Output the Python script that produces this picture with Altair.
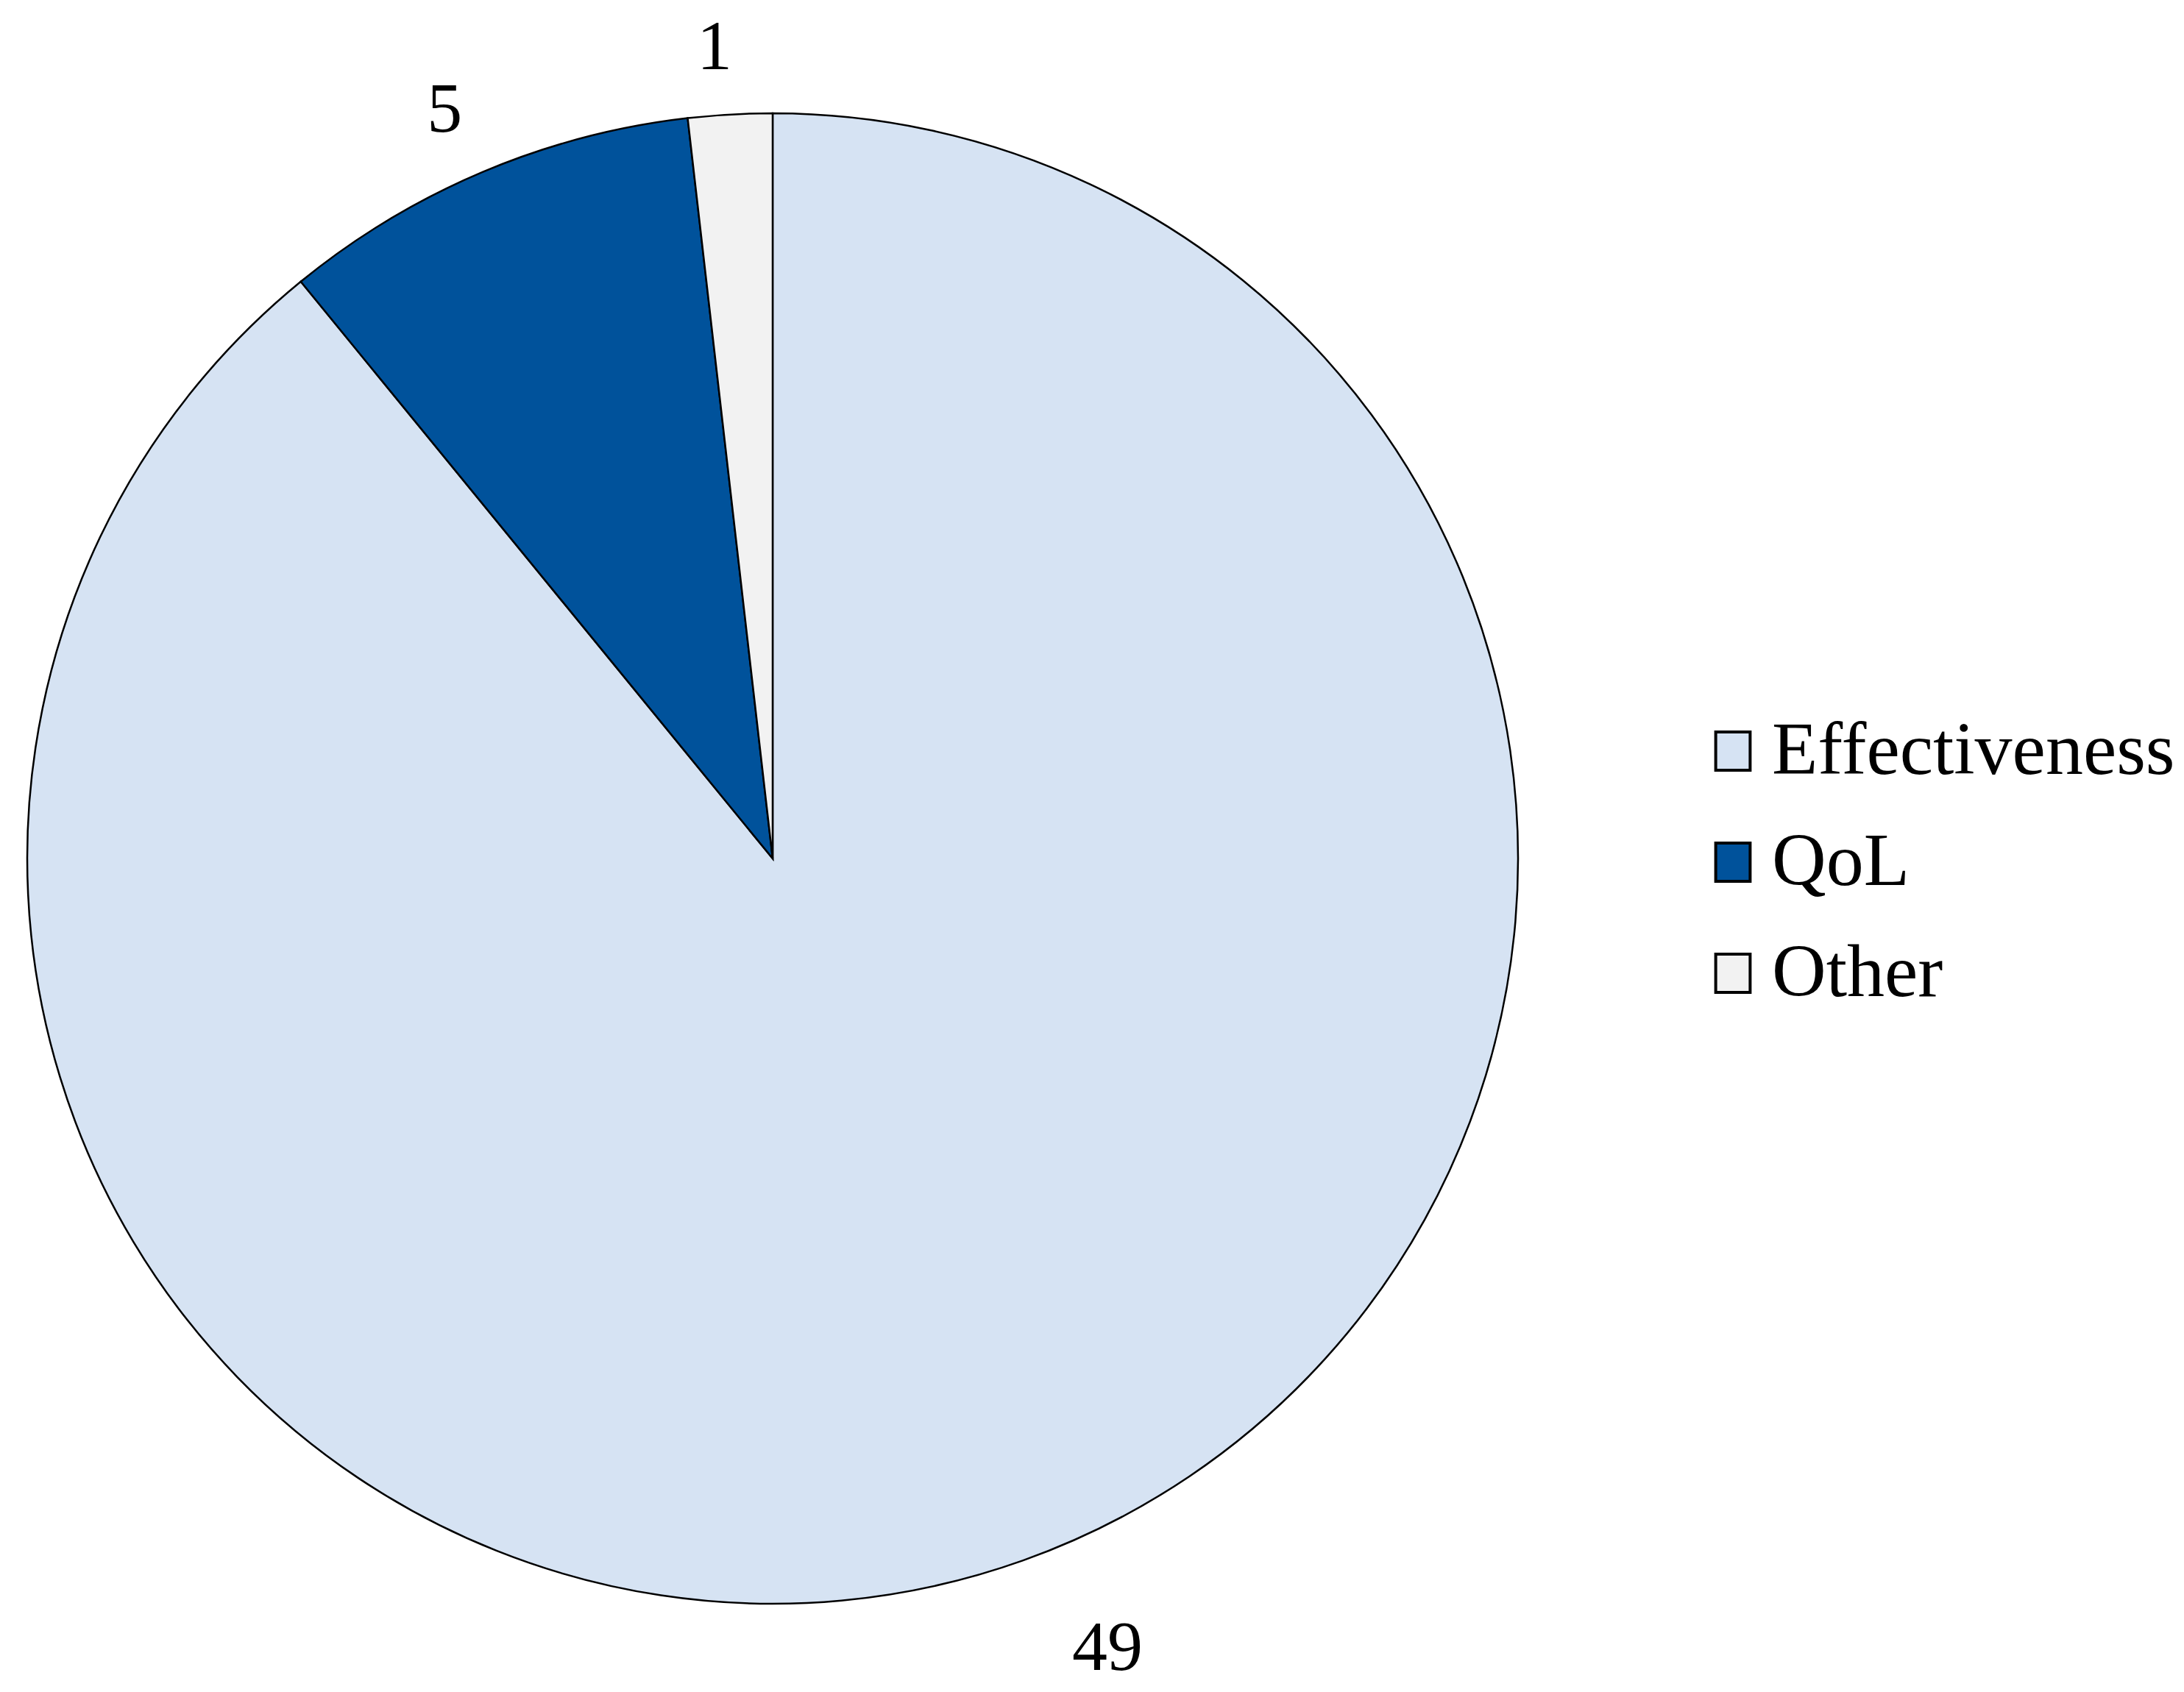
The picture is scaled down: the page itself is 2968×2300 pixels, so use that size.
import altair as alt
import pandas as pd

categories = ["Effectiveness", "QoL", "Other"]
counts = [49, 5, 1]
colors = ["#D6E3F3", "#00529B", "#F2F2F2"]
order = [0, 1, 2]

df = pd.DataFrame({"category": categories, "count": counts, "ord": order})

cx, cy = 1042, 1159

base = alt.Chart(df).encode(
    theta=alt.Theta("count:Q", stack=True),
    order=alt.Order("ord:Q"),
    x=alt.value(cx),
    y=alt.value(cy),
)

pie = base.mark_arc(outerRadius=1013, stroke="black", strokeWidth=2.5).encode(
    color=alt.Color(
        "category:N",
        scale=alt.Scale(domain=categories, range=colors),
        sort=categories,
        legend=alt.Legend(
            title=None,
            orient="none",
            legendX=2296,
            legendY=962,
            labelFont="Liberation Serif",
            labelFontSize=102,
            labelColor="black",
            symbolType="M-0.9,-1H0.9V1H-0.9Z",
            symbolSize=2700,
            symbolStrokeColor="black",
            symbolStrokeWidth=4,
            rowPadding=49,
            labelOffset=2,
            labelLimit=1000,
        ),
    ),
)

text_style = dict(font="Liberation Serif", fontSize=96, color="black",
                  baseline="middle", align="center")

labels_big = base.mark_text(radius=1140, dx=72, **text_style).encode(
    text=alt.condition("datum.category == 'Effectiveness'",
                       alt.Text("count:Q"), alt.value(""))
)
labels_small = base.mark_text(radius=1104, dx=-16, **text_style).encode(
    text=alt.condition("datum.category != 'Effectiveness'",
                       alt.Text("count:Q"), alt.value(""))
)

chart = (
    alt.layer(pie, labels_big, labels_small)
    .properties(width=2950, height=2282, padding=0, background="white",
                autosize=alt.AutoSizeParams(type="none"))
    .configure_view(stroke=None)
)

chart.save("out.html", embed_options={"renderer": "svg", "actions": False})
